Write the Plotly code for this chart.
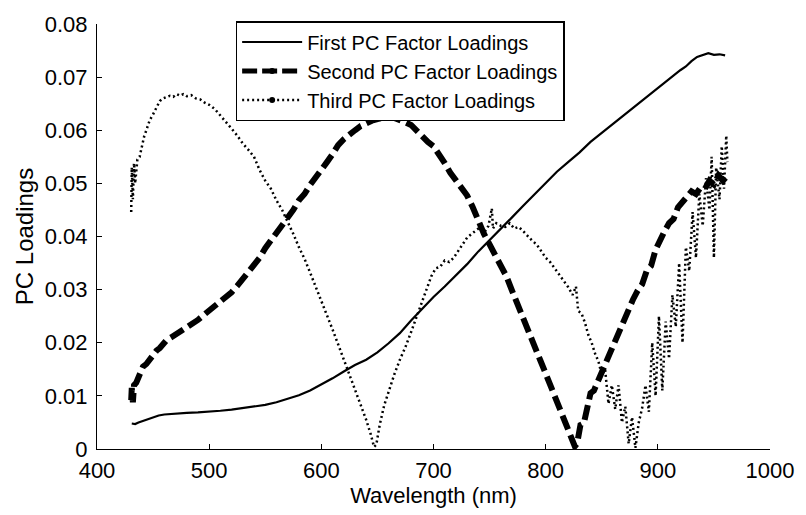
import plotly.graph_objects as go

# ---------------- data ----------------
wl_first = [431, 434, 437, 441, 445, 450, 455, 460, 470, 480, 490, 500, 510, 520, 530, 540,
            550, 560, 570, 580, 590, 600, 610, 620, 630, 640, 650, 660, 670, 680, 690, 700,
            710, 720, 730, 740, 750, 760, 770, 780, 790, 800, 810, 820, 830, 840, 850, 860,
            870, 880, 890, 900, 910, 920, 925, 930, 935, 940, 945, 950, 955, 960]
pc_first = [0.0048, 0.0047, 0.0050, 0.0053, 0.0056, 0.0060, 0.0063, 0.0065, 0.0067, 0.0068,
            0.0069, 0.0070, 0.0072, 0.0074, 0.0077, 0.0080, 0.0083, 0.0088, 0.0094, 0.0101,
            0.0110, 0.0121, 0.0133, 0.0146, 0.0158, 0.0168, 0.0182, 0.0199, 0.0218, 0.0242,
            0.0265, 0.0286, 0.0306, 0.0327, 0.0348, 0.0372, 0.0393, 0.0413, 0.0436, 0.0458,
            0.0480, 0.0502, 0.0522, 0.0540, 0.0558, 0.0578, 0.0595, 0.0612, 0.0628, 0.0645,
            0.0663, 0.0680, 0.0697, 0.0713, 0.0720, 0.0730, 0.0738, 0.0742, 0.0745, 0.0742,
            0.0743, 0.0741]

wl_second = [430.5, 431, 432, 433, 435, 438, 441, 444, 447, 450, 453, 456, 459, 462, 466, 470,
             474, 478, 482, 486, 490, 495, 500, 505, 510, 515, 520, 525, 530, 535, 540, 545,
             550, 555, 560, 565, 570, 575, 580, 585, 590, 595, 600, 605, 610, 615, 620, 625,
             630, 635, 640, 645, 650, 655, 660, 665, 670, 675, 680, 685, 690, 695, 700, 705,
             710, 715, 720, 725, 730, 735, 740, 745, 750, 755, 760, 765, 770, 775, 780, 785,
             790, 795, 800, 805, 810, 815, 820, 824, 826, 828, 831, 834, 837, 840, 843, 846,
             850, 854, 858, 862, 866, 870, 874, 878, 882, 886, 890, 894, 898, 902, 906, 910,
             914, 918, 922, 926, 930, 934, 938, 942, 946, 950, 954, 958, 961]
pc_second = [0.0092, 0.0115, 0.0088, 0.0120, 0.0125, 0.0140, 0.0155, 0.0160, 0.0170, 0.0175,
             0.0185, 0.0190, 0.0198, 0.0205, 0.0210, 0.0215, 0.0220, 0.0228, 0.0233, 0.0238,
             0.0243, 0.0252, 0.0260, 0.0268, 0.0277, 0.0285, 0.0295, 0.0307, 0.0320, 0.0332,
             0.0346, 0.0360, 0.0378, 0.0392, 0.0408, 0.0423, 0.0435, 0.0450, 0.0468, 0.0480,
             0.0497, 0.0510, 0.0527, 0.0540, 0.0555, 0.0572, 0.0583, 0.0593, 0.0600, 0.0608,
             0.0614, 0.0618, 0.0621, 0.0623, 0.0626, 0.0623, 0.0620, 0.0615, 0.0610, 0.0598,
             0.0588, 0.0578, 0.0570, 0.0555, 0.0538, 0.0520, 0.0505, 0.0490, 0.0477, 0.0455,
             0.0428, 0.0405, 0.0385, 0.0365, 0.0343, 0.0325, 0.0298, 0.0273, 0.0250, 0.0222,
             0.0195, 0.0168, 0.0142, 0.0115, 0.0088, 0.0060, 0.0035, 0.0015, 0.0005, 0.0010,
             0.0045, 0.0048, 0.0075, 0.0105, 0.0110, 0.0125, 0.0145, 0.0160, 0.0185, 0.0205,
             0.0225, 0.0245, 0.0265, 0.0282, 0.0298, 0.0310, 0.0335, 0.0345, 0.0375, 0.0395,
             0.0410, 0.0425, 0.0433, 0.0455, 0.0465, 0.0475, 0.0485, 0.0480, 0.0492, 0.0490,
             0.0505, 0.0498, 0.0515, 0.0505, 0.0512]

wl_third = [430.5, 431, 432, 433, 434, 436, 438, 440, 442, 444, 447, 450, 453, 456, 459, 462,
            465, 468, 471, 474, 477, 480, 484, 488, 492, 496, 500, 505, 510, 515, 520, 525,
            530, 535, 540, 545, 550, 555, 560, 565, 570, 575, 580, 585, 590, 595, 600, 605,
            610, 615, 620, 625, 630, 635, 640, 644, 647, 649, 652, 656, 660, 665, 670, 675,
            680, 685, 690, 694, 698, 702, 706, 710, 714, 718, 722, 726, 730, 734, 738, 742,
            746, 749, 752, 753, 756, 760, 764, 768, 772, 776, 780, 784, 788, 792, 796, 800,
            804, 808, 812, 816, 820, 824, 827, 829, 832, 835, 838, 841, 844, 847, 850, 853,
            856, 859, 862, 865, 868, 871, 874, 877, 880, 883, 886, 889, 892, 895, 898, 901,
            904, 907, 910, 913, 916, 919, 922, 925, 928, 931, 934, 937, 940, 943, 946, 948,
            950, 952, 955, 957, 959, 961, 962]
pc_third = [0.0446, 0.0530, 0.0470, 0.0538, 0.0500, 0.0545, 0.0550, 0.0570, 0.0588, 0.0600,
            0.0619, 0.0630, 0.0643, 0.0655, 0.0660, 0.0662, 0.0665, 0.0663, 0.0668, 0.0665,
            0.0668, 0.0664, 0.0666, 0.0660, 0.0658, 0.0652, 0.0648, 0.0640, 0.0628, 0.0617,
            0.0603, 0.0590, 0.0575, 0.0563, 0.0550, 0.0525, 0.0505, 0.0490, 0.0468, 0.0450,
            0.0428, 0.0405, 0.0380, 0.0358, 0.0332, 0.0306, 0.0280, 0.0252, 0.0225, 0.0197,
            0.0168, 0.0140, 0.0112, 0.0085, 0.0055, 0.0028, 0.0004, 0.0008, 0.0045, 0.0082,
            0.0108, 0.0140, 0.0168, 0.0192, 0.0220, 0.0250, 0.0278, 0.0300, 0.0325, 0.0340,
            0.0343, 0.0355, 0.0352, 0.0360, 0.0372, 0.0385, 0.0398, 0.0405, 0.0412, 0.0418,
            0.0410, 0.0420, 0.0453, 0.0415, 0.0425, 0.0420, 0.0418, 0.0425, 0.0415, 0.0418,
            0.0410, 0.0400, 0.0392, 0.0385, 0.0372, 0.0360, 0.0352, 0.0340, 0.0330, 0.0318,
            0.0305, 0.0290, 0.0306, 0.0260, 0.0255, 0.0238, 0.0215, 0.0200, 0.0180, 0.0165,
            0.0140, 0.0150, 0.0085, 0.0120, 0.0075, 0.0120, 0.0050, 0.0080, 0.0010, 0.0060,
            0.0002, 0.0050, 0.0077, 0.0120, 0.0070, 0.0200, 0.0100, 0.0250, 0.0110, 0.0240,
            0.0170, 0.0290, 0.0230, 0.0350, 0.0200, 0.0380, 0.0335, 0.0446, 0.0360, 0.0480,
            0.0420, 0.0510, 0.0450, 0.0550, 0.0360, 0.0530, 0.0470, 0.0570, 0.0490, 0.0590,
            0.0540]

series_names = ["First PC Factor Loadings", "Second PC Factor Loadings", "Third PC Factor Loadings"]
x_ticks = [400, 500, 600, 700, 800, 900, 1000]
y_ticks = [0, 0.01, 0.02, 0.03, 0.04, 0.05, 0.06, 0.07, 0.08]
y_tick_text = ["0", "0.01", "0.02", "0.03", "0.04", "0.05", "0.06", "0.07", "0.08"]

FONT = "Liberation Sans, Arial, sans-serif"

fig = go.Figure()

# main curves (no legend)
fig.add_trace(go.Scatter(x=wl_first, y=pc_first, mode="lines", showlegend=False,
                         line=dict(color="black", width=2.2)))
fig.add_trace(go.Scatter(x=wl_second, y=pc_second, mode="lines", showlegend=False,
                         line=dict(color="black", width=6, dash="15px,6px")))
fig.add_trace(go.Scatter(x=wl_third, y=pc_third, mode="lines", showlegend=False,
                         line=dict(color="black", width=2.5, dash="2px,3px")))

# legend entries
fig.add_trace(go.Scatter(x=[None], y=[None], mode="lines", name=series_names[0],
                         line=dict(color="black", width=2)))
fig.add_trace(go.Scatter(x=[None], y=[None], mode="lines+markers", name=series_names[1],
                         line=dict(color="black", width=5, dash="15px,5px"),
                         marker=dict(color="black", size=6)))
fig.add_trace(go.Scatter(x=[None], y=[None], mode="lines+markers", name=series_names[2],
                         line=dict(color="black", width=2.5, dash="2px,3px"),
                         marker=dict(color="black", size=6)))

axis_common = dict(
    showgrid=False, zeroline=False, showline=True, linecolor="black", linewidth=1,
    ticks="inside", ticklen=5, tickcolor="black", tickwidth=1,
    tickfont=dict(family=FONT, size=22, color="black"),
    mirror=False,
)

fig.update_xaxes(range=[400, 1000], tickvals=x_ticks, ticktext=[str(v) for v in x_ticks],
                 title=dict(text="Wavelength (nm)", font=dict(family=FONT, size=22, color="black"),
                            standoff=4),
                 ticklabelstandoff=2, **axis_common)
fig.update_yaxes(range=[0, 0.08], tickvals=y_ticks, ticktext=y_tick_text,
                 title=dict(text="PC Loadings", font=dict(family=FONT, size=24, color="black"),
                            standoff=4),
                 ticklabelstandoff=4, **axis_common)

fig.update_layout(
    width=806, height=515,
    margin=dict(l=97, r=30, t=15, b=66, pad=0),
    paper_bgcolor="white", plot_bgcolor="white",
    font=dict(family=FONT, color="black"),
    legend=dict(x=0.206, y=1.007, xanchor="left", yanchor="top",
                bgcolor="white", bordercolor="black", borderwidth=1.5,
                font=dict(family=FONT, size=20, color="black"),
                itemwidth=60, tracegroupgap=0),
)

fig.write_html("out.html")
